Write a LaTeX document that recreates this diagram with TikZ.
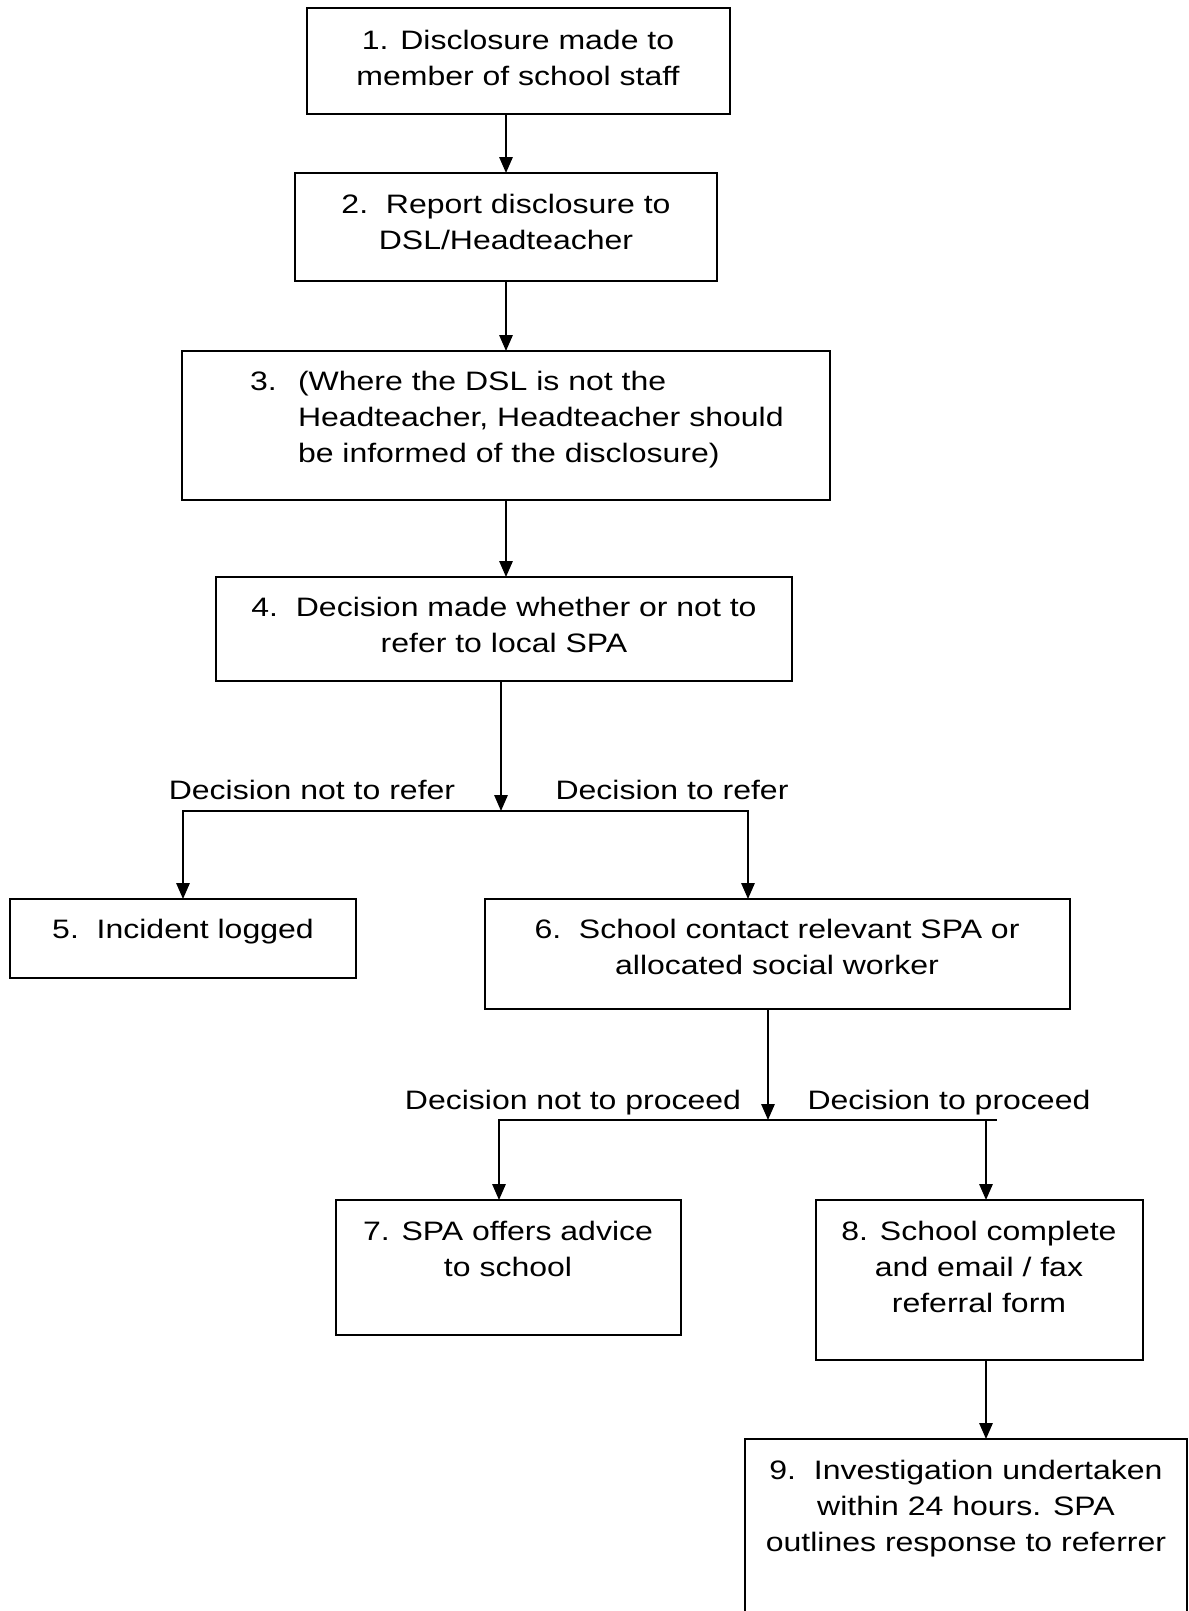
\documentclass[tikz,border=0pt]{standalone}
\usepackage{fontspec}
\setmainfont{Liberation Sans}[FakeStretch=1.2]
\usetikzlibrary{arrows.meta}
\begin{document}
\begin{tikzpicture}[x=0.375pt,y=-0.375pt,
  box/.style 2 args={draw,line width=0.75pt,inner sep=0pt,outer sep=0pt,
    minimum width=#1*0.375pt,minimum height=#2*0.375pt},
  txt/.style={inner sep=0pt,outer sep=0pt,anchor=base,font=\fontsize{10}{13.5}\selectfont},
  arr/.style={line width=0.75pt,-{Triangle[length=6pt,width=5pt]}},
  ln/.style={line width=0.75pt}]
\useasboundingbox (0,0) rectangle (1189,1611);
\clip (0,0) rectangle (1189,1611);

% boxes
\node[box={423}{106}] (b1) at (518.5,61) {};
\node[box={422}{108}] (b2) at (506,227) {};
\node[box={648}{149}] (b3) at (506,425.5) {};
\node[box={576}{104}] (b4) at (504,629) {};
\node[box={346}{79}]  (b5) at (183,938.5) {};
\node[box={585}{110}] (b6) at (777.5,954) {};
\node[box={345}{135}] (b7) at (508.5,1267.5) {};
\node[box={327}{160}] (b8) at (979.5,1280) {};
\node[box={442}{221}] (b9) at (966,1549.5) {};

% texts
\node[txt] (t1) at (518,49) {\begin{tabular}[t]{@{}c@{}}1. Disclosure made to\\member of school staff\end{tabular}};
\node[txt] (t2) at (506,213) {\begin{tabular}[t]{@{}c@{}}2.~~Report disclosure to\\DSL/Headteacher\end{tabular}};
\node[txt,anchor=base west] (t3) at (250,390) {\begin{tabular}[t]{@{}l@{}l@{}}\makebox[18pt][l]{3.}&(Where the DSL is not the\\&Headteacher, Headteacher should\\&be informed of the disclosure)\end{tabular}};
\node[txt] (t4) at (504,616) {\begin{tabular}[t]{@{}c@{}}4.~~Decision made whether or not to\\refer to local SPA\end{tabular}};
\node[txt] (t5) at (183,938) {5.~~Incident logged};
\node[txt] (t6) at (777,938) {\begin{tabular}[t]{@{}c@{}}6.~~School contact relevant SPA or\\allocated social worker\end{tabular}};
\node[txt] (t7) at (508,1240) {\begin{tabular}[t]{@{}c@{}}7. SPA offers advice\\to school\end{tabular}};
\node[txt] (t8) at (979,1240) {\begin{tabular}[t]{@{}c@{}}8. School complete\\and email / fax\\referral form\end{tabular}};
\node[txt] (t9) at (966,1479) {\begin{tabular}[t]{@{}c@{}}9.~~Investigation undertaken\\within 24 hours. SPA\\outlines response to referrer\end{tabular}};

% branch labels
\node[txt] (l1) at (312,799) {Decision not to refer};
\node[txt] (l2) at (672,799) {Decision to refer};
\node[txt] (l3) at (573,1109) {Decision not to proceed};
\node[txt] (l4) at (949,1109) {Decision to proceed};

% helper coordinates
\coordinate (j1) at (501,811);
\coordinate (r1) at (748,0);
\coordinate (j2) at (768,1120);
\coordinate (c7) at (499,0);
\coordinate (c8) at (986,0);
\coordinate (e2) at (997,1120);

% connectors
\draw[arr] (b1.south -| b2.north) -- (b2.north);
\draw[arr] (b2.south) -- (b3.north);
\draw[arr] (b3.south) -- (b4.north -| b3.south);
\draw[arr] (b4.south -| j1) -- (j1);
\draw[arr] (j1) -| (b5.north);
\draw[arr] (j1) -| (b6.north -| r1);
\draw[arr] (b6.south -| j2) -- (j2);
\draw[arr] (j2) -| (b7.north -| c7);
\draw[ln] (j2) -- (e2);
\draw[arr] (j2 -| c8) -- (b8.north -| c8);
\draw[arr] (b8.south -| c8) -- (b9.north -| c8);
\end{tikzpicture}
\end{document}
